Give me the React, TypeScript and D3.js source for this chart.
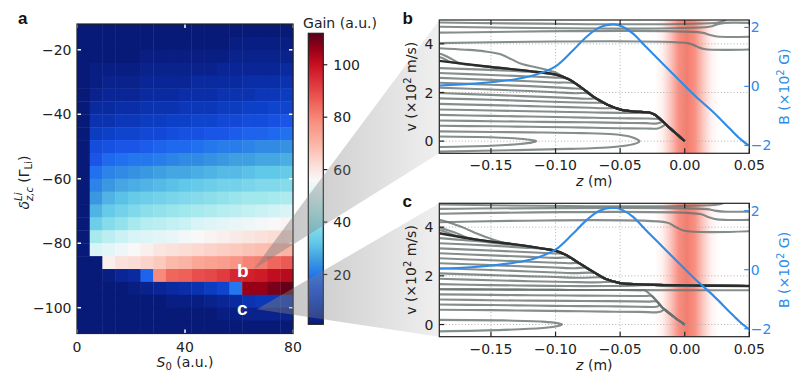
import React from 'react';
import * as d3 from 'd3';

type Pt = [number, number];
type Traj = { pts: Pt[]; to?: 'dark' | 'desc' };

// ---------- panel a: gain map ----------
const s0Centers = [2.35, 7.06, 11.76, 16.47, 21.18, 25.88, 30.59, 35.29, 40.0, 44.71, 49.41, 54.12, 58.82, 63.53, 68.24, 72.94, 77.65];
const s0Width = 80 / 17;
const deltaCenters = [-14, -18, -22, -26, -30, -34, -38, -42, -46, -50, -54, -58, -62, -66, -70, -74, -78, -82, -86, -90, -94, -98, -102, -106];
const deltaHeight = 4;

const gainRows: number[][] = [
  [0, 1, 1, 1, 1, 1, 1, 1, 1, 1, 1, 1, 1, 1, 1, 1, 1],
  [0, 1, 1, 1, 1, 1, 1, 1, 1, 1, 1, 1, 2, 2, 2, 2, 2],
  [0, 1, 1, 1, 1, 2, 2, 2, 2, 2, 2, 2, 3, 3, 3, 3, 3],
  [0, 2, 2, 2, 2, 3, 3, 3, 3, 3, 3, 4, 4, 4, 4, 4, 5],
  [0, 2, 3, 3, 3, 4, 4, 4, 4, 5, 5, 5, 5, 6, 6, 6, 7],
  [0, 3, 4, 4, 4, 5, 5, 5, 6, 6, 6, 7, 7, 7, 8, 8, 9],
  [0, 5, 5, 6, 6, 7, 7, 7, 8, 8, 8, 9, 9, 10, 10, 11, 11],
  [0, 7, 7, 8, 8, 9, 9, 10, 10, 11, 11, 12, 12, 13, 13, 14, 15],
  [0, 9, 10, 11, 11, 12, 12, 13, 14, 14, 15, 15, 16, 17, 17, 18, 19],
  [0, 13, 14, 15, 15, 16, 17, 18, 18, 19, 20, 21, 21, 22, 23, 23, 24],
  [0, 15, 18, 19, 20, 20, 21, 22, 23, 23, 24, 25, 26, 26, 27, 27, 28],
  [0, 19, 22, 23, 24, 25, 26, 27, 27, 28, 29, 30, 30, 31, 32, 32, 33],
  [0, 22, 25, 27, 28, 29, 30, 31, 32, 33, 34, 35, 35, 36, 37, 37, 38],
  [0, 25, 29, 31, 33, 34, 35, 36, 37, 38, 39, 40, 41, 42, 42, 43, 44],
  [0, 29, 33, 35, 37, 39, 40, 41, 42, 43, 44, 45, 46, 47, 48, 49, 50],
  [0, 34, 38, 40, 43, 45, 46, 47, 48, 50, 51, 52, 53, 54, 55, 56, 57],
  [0, 43, 46, 48, 50, 51, 52, 53, 55, 56, 57, 58, 59, 60, 61, 62, 63],
  [0, 50, 52, 54, 56, 58, 60, 61, 62, 63, 64, 65, 66, 67, 68, 69, 70],
  [0, 1, 58, 61, 62, 64, 66, 69, 70, 73, 74, 75, 77, 80, 81, 85, 87],
  [0, 1, 2, 4, 5, 17, 79, 85, 86, 89, 90, 92, 96, 97, 98, 101, 102],
  [0, 0, 1, 1, 2, 3, 4, 5, 6, 7, 9, 11, 20, 106, 106, 109, 111],
  [0, 0, 0, 1, 1, 1, 1, 2, 2, 2, 3, 4, 5, 7, 8, 8, 8],
  [0, 0, 0, 0, 0, 1, 1, 1, 1, 1, 1, 2, 2, 3, 3, 3, 3],
  [0, 0, 0, 0, 0, 0, 0, 0, 0, 0, 0, 1, 1, 1, 1, 1, 1],
];

const heatXTicks = [0, 40, 80];
const heatYTicks = [-20, -40, -60, -80, -100];
const gainTicks = [20, 40, 60, 80, 100];
const gainRange: Pt = [1, 112];
const gainStops: [number, string][] = [
  [1, '#081a78'], [5, '#0a2aa0'], [10, '#0c40c8'], [15, '#1a55e8'], [19, '#2070f0'],
  [25, '#3a98e0'], [32, '#60c8e8'], [42, '#a0e8ec'], [50, '#d8f4f6'], [56, '#f8f8f8'],
  [63, '#fcd8d0'], [70, '#fbb4a4'], [78, '#f89080'], [86, '#ee6058'], [92, '#e03c40'],
  [100, '#c81020'], [106, '#980018'], [112, '#5a0018'],
];

// points of the map shown in panels b and c
const markers = [
  { id: 'b', s0: 65.5, delta: -88, textS0: 59.3, textDelta: -90.6 },
  { id: 'c', s0: 66.6, delta: -100.5, textS0: 59.3, textDelta: -102.3 },
];

// ---------- panels b, c: trajectories ----------
const zTicks = [-0.15, -0.1, -0.05, 0.0, 0.05];
const vTicks = [0, 2, 4];
const bTicks = [-2, 0, 2];

const bField: Pt[] = [
  [-0.19, 0.03], [-0.16, 0.1], [-0.13, 0.25], [-0.115, 0.4], [-0.1, 0.68], [-0.087, 1.2],
  [-0.076, 1.68], [-0.066, 2.0], [-0.055, 2.1], [-0.048, 2.02], [-0.04, 1.79], [-0.03, 1.34],
  [-0.017, 0.77], [-0.004, 0.2], [0.009, -0.36], [0.022, -0.87], [0.035, -1.44], [0.043, -1.78], [0.05, -2.02],
];

const darkB: Pt[] = [
  [-0.19, 3.3], [-0.15, 3.05], [-0.12, 2.88], [-0.1, 2.74], [-0.09, 2.55], [-0.08, 2.2], [-0.07, 1.8],
  [-0.06, 1.5], [-0.05, 1.3], [-0.04, 1.22], [-0.027, 1.17], [-0.023, 1.08], [-0.012, 0.56], [0, 0],
];

const grayB: Traj[] = [
  { pts: [[-0.19, 4.88], [0.026, 4.88], [0.031, 4.97], [0.036, 5.15]] },
  { pts: [[-0.19, 4.7], [0.019, 4.7], [0.025, 4.8], [0.031, 4.86], [0.05, 4.86]] },
  { pts: [[-0.19, 4.46], [0.013, 4.46], [0.019, 4.37], [0.025, 4.3], [0.05, 4.29]] },
  { pts: [[-0.19, 4.03], [0.003, 4.02], [0.009, 3.9], [0.015, 3.79], [0.05, 3.77]] },
  { pts: [[-0.19, 3.82], [-0.17, 3.76], [-0.155, 3.69], [-0.142, 3.56], [-0.134, 3.36], [-0.126, 3.17], [-0.112, 3.0], [-0.1, 2.82], [-0.093, 2.62]], to: 'dark' },
  { pts: [[-0.19, 3.6], [-0.185, 3.5], [-0.18, 3.36], [-0.174, 3.2]], to: 'dark' },
  { pts: [[-0.19, 3.46], [-0.186, 3.38], [-0.181, 3.25]], to: 'dark' },
  { pts: [[-0.19, 3.0], [-0.15, 2.93], [-0.12, 2.85], [-0.105, 2.775]], to: 'dark' },
  { pts: [[-0.19, 2.8], [-0.15, 2.72], [-0.12, 2.66], [-0.1, 2.61], [-0.092, 2.59]], to: 'dark' },
  { pts: [[-0.19, 2.6], [-0.15, 2.52], [-0.12, 2.46], [-0.1, 2.41], [-0.085, 2.375]], to: 'dark' },
  { pts: [[-0.19, 2.4], [-0.15, 2.32], [-0.12, 2.26], [-0.1, 2.21], [-0.088, 2.17], [-0.078, 2.12]], to: 'dark' },
  { pts: [[-0.19, 2.2], [-0.15, 2.12], [-0.12, 2.06], [-0.1, 2.01], [-0.085, 1.97], [-0.074, 1.96]], to: 'dark' },
  { pts: [[-0.19, 1.98], [-0.15, 1.9], [-0.12, 1.84], [-0.09, 1.78], [-0.075, 1.74], [-0.068, 1.74]], to: 'dark' },
  { pts: [[-0.19, 1.76], [-0.15, 1.7], [-0.12, 1.65], [-0.09, 1.6], [-0.073, 1.58], [-0.062, 1.56]], to: 'dark' },
  { pts: [[-0.19, 1.53], [-0.15, 1.48], [-0.12, 1.44], [-0.09, 1.4], [-0.073, 1.37], [-0.06, 1.35], [-0.053, 1.36]], to: 'dark' },
  { pts: [[-0.19, 1.3], [-0.15, 1.26], [-0.12, 1.23], [-0.09, 1.2], [-0.07, 1.18], [-0.05, 1.16], [-0.035, 1.16], [-0.027, 1.17]], to: 'dark' },
  { pts: [[-0.19, 1.08], [-0.15, 1.04], [-0.12, 1.01], [-0.09, 0.98], [-0.07, 0.96], [-0.05, 0.94], [-0.03, 0.93], [-0.024, 0.92], [-0.019, 0.89]], to: 'dark' },
  { pts: [[-0.19, 0.85], [-0.15, 0.82], [-0.12, 0.8], [-0.09, 0.78], [-0.07, 0.77], [-0.05, 0.75], [-0.03, 0.74], [-0.022, 0.72], [-0.019, 0.76], [-0.017, 0.8]], to: 'dark' },
  { pts: [[-0.19, 0.63], [-0.15, 0.61], [-0.12, 0.59], [-0.09, 0.57], [-0.07, 0.55], [-0.05, 0.53], [-0.03, 0.52], [-0.021, 0.52], [-0.018, 0.58], [-0.0145, 0.68]], to: 'dark' },
  { pts: [[-0.19, 0.4], [-0.12, 0.36], [-0.08, 0.33], [-0.055, 0.28], [-0.042, 0.18], [-0.036, 0.05], [-0.035, 0], [-0.037, -0.08], [-0.045, -0.18], [-0.06, -0.26], [-0.09, -0.32], [-0.13, -0.37], [-0.19, -0.43]] },
  { pts: [[-0.19, 0.19], [-0.15, 0.16], [-0.128, 0.1], [-0.118, 0.04], [-0.115, 0], [-0.118, -0.05], [-0.128, -0.12], [-0.15, -0.19], [-0.19, -0.24]] },
];

const darkC: Pt[] = [
  [-0.19, 3.75], [-0.16, 3.48], [-0.13, 3.28], [-0.11, 3.12], [-0.1, 3.03], [-0.092, 2.86], [-0.082, 2.53],
  [-0.071, 2.17], [-0.061, 1.87], [-0.05, 1.7], [-0.035, 1.65], [0, 1.61], [0.05, 1.58],
];
const descC: Pt[] = [[-0.031, 1.41], [-0.026, 1.2], [-0.017, 0.68], [-0.008, 0.3], [0, 0]];

const grayC: Traj[] = [
  { pts: [[-0.19, 4.93], [0.026, 4.93], [0.031, 5.02], [0.036, 5.15]] },
  { pts: [[-0.19, 4.75], [0.017, 4.74], [0.023, 4.68], [0.03, 4.64], [0.05, 4.64]] },
  { pts: [[-0.19, 4.55], [0.012, 4.54], [0.018, 4.42], [0.025, 4.32], [0.05, 4.3]] },
  { pts: [[-0.19, 4.2], [-0.014, 4.19], [-0.008, 4.04], [-0.001, 3.86], [0.05, 3.83]] },
  { pts: [[-0.19, 4.3], [-0.18, 4.15], [-0.17, 3.95], [-0.16, 3.72], [-0.15, 3.52], [-0.14, 3.36]], to: 'dark' },
  { pts: [[-0.19, 4.0], [-0.185, 3.9], [-0.178, 3.78], [-0.168, 3.56]], to: 'dark' },
  { pts: [[-0.19, 3.88], [-0.185, 3.8], [-0.178, 3.66]], to: 'dark' },
  { pts: [[-0.19, 3.55], [-0.16, 3.42], [-0.14, 3.3], [-0.125, 3.24]], to: 'dark' },
  { pts: [[-0.19, 3.34], [-0.15, 3.24], [-0.125, 3.16], [-0.108, 3.1]], to: 'dark' },
  { pts: [[-0.19, 3.13], [-0.15, 3.04], [-0.12, 2.97], [-0.1, 2.92], [-0.094, 2.9]], to: 'dark' },
  { pts: [[-0.19, 2.93], [-0.15, 2.84], [-0.12, 2.78], [-0.1, 2.74], [-0.088, 2.73]], to: 'dark' },
  { pts: [[-0.19, 2.72], [-0.15, 2.64], [-0.12, 2.58], [-0.1, 2.54], [-0.09, 2.52], [-0.081, 2.5]], to: 'dark' },
  { pts: [[-0.19, 2.52], [-0.15, 2.44], [-0.12, 2.38], [-0.1, 2.34], [-0.085, 2.31], [-0.076, 2.33]], to: 'dark' },
  { pts: [[-0.19, 2.31], [-0.15, 2.24], [-0.12, 2.18], [-0.1, 2.14], [-0.085, 2.11], [-0.069, 2.11]], to: 'dark' },
  { pts: [[-0.19, 2.1], [-0.15, 2.03], [-0.12, 1.98], [-0.1, 1.95], [-0.08, 1.92], [-0.063, 1.93]], to: 'dark' },
  { pts: [[-0.19, 1.88], [-0.15, 1.82], [-0.12, 1.78], [-0.09, 1.75], [-0.07, 1.73], [-0.053, 1.75]], to: 'dark' },
  { pts: [[-0.19, 1.66], [-0.15, 1.62], [-0.12, 1.6], [-0.09, 1.58], [-0.06, 1.58], [-0.04, 1.6], [-0.02, 1.63]], to: 'dark' },
  { pts: [[-0.19, 1.45], [-0.15, 1.44], [-0.12, 1.43], [-0.09, 1.42], [-0.06, 1.42], [-0.033, 1.415], [0, 1.41], [0.05, 1.41]] },
  { pts: [[-0.19, 1.45], [-0.15, 1.44], [-0.12, 1.43], [-0.09, 1.42], [-0.06, 1.42], [-0.034, 1.415]], to: 'desc' },
  { pts: [[-0.19, 1.24], [-0.15, 1.22], [-0.12, 1.2], [-0.09, 1.19], [-0.06, 1.18], [-0.04, 1.17], [-0.03, 1.17], [-0.0255, 1.17]], to: 'desc' },
  { pts: [[-0.19, 1.03], [-0.15, 1.0], [-0.12, 0.98], [-0.09, 0.97], [-0.06, 0.96], [-0.04, 0.95], [-0.028, 0.94], [-0.0215, 0.94]], to: 'desc' },
  { pts: [[-0.19, 0.82], [-0.15, 0.8], [-0.12, 0.78], [-0.09, 0.76], [-0.06, 0.75], [-0.035, 0.73], [-0.024, 0.72], [-0.021, 0.74], [-0.0195, 0.81]], to: 'desc' },
  { pts: [[-0.19, 0.61], [-0.15, 0.59], [-0.12, 0.57], [-0.09, 0.55], [-0.06, 0.53], [-0.035, 0.52], [-0.022, 0.5], [-0.019, 0.52], [-0.017, 0.58], [-0.0155, 0.62]], to: 'desc' },
  { pts: [[-0.19, 0.19], [-0.14, 0.17], [-0.11, 0.12], [-0.098, 0.05], [-0.095, 0], [-0.098, -0.06], [-0.11, -0.14], [-0.14, -0.22], [-0.19, -0.28]] },
];

// red beam region around z = 0
const bandCenter = 0.0015;
const bandHalf = 0.025;
const bandProfile = [0, 0.1, 0.4, 0.78, 0.92, 0.78, 0.4, 0.1, 0];

// ---------- layout ----------
const W = 803;
const H = 378;
const FONT = 'DejaVu Sans, Verdana, sans-serif';
const BOLD = 'Liberation Sans, Arial, sans-serif';
const BLUE = '#2f8be6';
const A = { left: 77, right: 293, top: 24, bottom: 333.5 };
const CB = { left: 308.3, right: 323.3, top: 33.3, bottom: 324.3 };
const PB = { left: 439.3, right: 749.3, top: 20, bottom: 153.3 };
const PC = { left: 439.3, right: 749.3, top: 203.3, bottom: 336.7 };

const xA = d3.scaleLinear().domain([0, 80]).range([A.left, A.right]);
const yA = d3.scaleLinear().domain([-108, -12]).range([A.bottom, A.top]);
const yCB = d3.scaleLinear().domain(gainRange).range([CB.bottom, CB.top]);
const gainColor = d3.scaleLinear<string>()
  .domain(gainStops.map(d => d[0]))
  .range(gainStops.map(d => d[1]))
  .interpolate(d3.interpolateRgb)
  .clamp(true);

const fmtZ = d3.format('.2f');
const fmtI = d3.format('d');

const joinPath = (t: Traj, paths: Record<string, Pt[]>) => {
  if (!t.to) return t.pts;
  const last = t.pts[t.pts.length - 1][0];
  return t.pts.concat(paths[t.to].filter(p => p[0] > last + 1e-6));
};

function TrajPanel({ id, box, gray, dark, desc, letter }: any) {
  const x = d3.scaleLinear().domain([-0.19, 0.05]).range([box.left, box.right]);
  const y = d3.scaleLinear().domain([-0.5, 4.98]).range([box.bottom, box.top]);
  const yB = d3.scaleLinear().domain([-2.27, 2.25]).range([box.bottom, box.top]);
  const line = d3.line<Pt>().x(d => x(d[0])).y(d => y(d[1])).curve(d3.curveCatmullRom.alpha(0.5));
  const lineB = d3.line<Pt>().x(d => x(d[0])).y(d => yB(d[1])).curve(d3.curveCatmullRom.alpha(0.5));
  const paths: Record<string, Pt[]> = { dark, desc: desc || [] };
  const bx0 = x(bandCenter - bandHalf);
  const bx1 = x(bandCenter + bandHalf);
  const cy = (box.top + box.bottom) / 2;
  const cx = (box.left + box.right) / 2;
  return (
    <g>
      <defs>
        <clipPath id={`clip-${id}`}>
          <rect x={box.left} y={box.top} width={box.right - box.left} height={box.bottom - box.top} />
        </clipPath>
        <linearGradient id={`band-${id}`} gradientUnits="userSpaceOnUse" x1={bx0} x2={bx1} y1={0} y2={0}>
          {bandProfile.map((o, i) => (
            <stop key={i} offset={i / (bandProfile.length - 1)} stopColor="#f5705f" stopOpacity={o} />
          ))}
        </linearGradient>
      </defs>
      <rect x={box.left} y={box.top} width={box.right - box.left} height={box.bottom - box.top} fill="#fff" />
      <g clipPath={`url(#clip-${id})`}>
        <rect x={bx0} y={box.top} width={bx1 - bx0} height={box.bottom - box.top} fill={`url(#band-${id})`} />
        {zTicks.slice(0, 4).map(t => (
          <line key={`gx${t}`} x1={x(t)} x2={x(t)} y1={box.top} y2={box.bottom} stroke="#a8a8a8" strokeWidth={0.9} strokeDasharray="1,2.2" />
        ))}
        {vTicks.map(t => (
          <line key={`gy${t}`} x1={box.left} x2={box.right} y1={y(t)} y2={y(t)} stroke="#a8a8a8" strokeWidth={0.9} strokeDasharray="1,2.2" />
        ))}
        {gray.map((t: Traj, i: number) => (
          <path key={i} d={line(joinPath(t, paths)) || ''} fill="none" stroke="#67726f" strokeOpacity={0.8} strokeWidth={2.1} />
        ))}
        <path d={line(dark) || ''} fill="none" stroke="#2b2b2b" strokeWidth={2.4} />
        <path d={lineB(bField) || ''} fill="none" stroke={BLUE} strokeWidth={2.1} />
      </g>
      <rect x={box.left} y={box.top} width={box.right - box.left} height={box.bottom - box.top} fill="none" stroke="#222" strokeWidth={1.2} />
      {zTicks.map(t => (
        <g key={`tz${t}`}>
          <line x1={x(t)} x2={x(t)} y1={box.bottom} y2={box.bottom - 5} stroke="#222" strokeWidth={1.2} />
          <line x1={x(t)} x2={x(t)} y1={box.top} y2={box.top + 5} stroke="#222" strokeWidth={1.2} />
          <text x={x(t)} y={box.bottom + 16.8} textAnchor="middle" fontSize={14} fontFamily={FONT} fill="#222">{fmtZ(t)}</text>
        </g>
      ))}
      {vTicks.map(t => (
        <g key={`tv${t}`}>
          <line x1={box.left} x2={box.left + 5} y1={y(t)} y2={y(t)} stroke="#222" strokeWidth={1.2} />
          <text x={box.left - 6} y={y(t)} dy="0.36em" textAnchor="end" fontSize={14} fontFamily={FONT} fill="#222">{fmtI(t)}</text>
        </g>
      ))}
      {bTicks.map(t => (
        <g key={`tb${t}`}>
          <line x1={box.right} x2={box.right - 5} y1={yB(t)} y2={yB(t)} stroke={BLUE} strokeWidth={1.2} />
          <text x={box.right + 1.5} y={yB(t)} dy="0.36em" fontSize={14} fontFamily={FONT} fill={BLUE}>{fmtI(t)}</text>
        </g>
      ))}
      <text x={cx} y={box.bottom + 33} textAnchor="middle" fontSize={14} fontFamily={FONT} fill="#222">
        <tspan fontStyle="italic">z</tspan> (m)
      </text>
      <text transform={`translate(416,${cy}) rotate(-90)`} textAnchor="middle" fontSize={14} fontFamily={FONT} fill="#222">
        v (×10<tspan dy={-5} fontSize={10}>2</tspan><tspan dy={5}> m/s)</tspan>
      </text>
      <text transform={`translate(789,${cy}) rotate(-90)`} textAnchor="middle" fontSize={14} fontFamily={FONT} fill={BLUE}>
        B (×10<tspan dy={-5} fontSize={10}>2</tspan><tspan dy={5}> G)</tspan>
      </text>
      <text x={402.5} y={box.top + 3.5} fontSize={17} fontWeight="bold" fontFamily={BOLD} fill="#111">{letter}</text>
    </g>
  );
}

function GainMap() {
  const cw = xA(s0Width) - xA(0);
  const panels: Record<string, any> = { b: PB, c: PC };
  return (
    <g>
      <defs>
        <linearGradient id="cbar" x1={0} y1={1} x2={0} y2={0}>
          {gainStops.map(([v, c]) => (
            <stop key={v} offset={(v - gainRange[0]) / (gainRange[1] - gainRange[0])} stopColor={c} />
          ))}
        </linearGradient>
        {markers.map(m => (
          <linearGradient key={m.id} id={`wedge-${m.id}`} gradientUnits="userSpaceOnUse" x1={xA(m.s0)} x2={panels[m.id].left} y1={0} y2={0}>
            <stop offset={0} stopColor="#7d7d7d" stopOpacity={0.5} />
            <stop offset={1} stopColor="#7d7d7d" stopOpacity={0.12} />
          </linearGradient>
        ))}
      </defs>
      {gainRows.map((row, i) =>
        row.map((g, j) => (
          <rect
            key={`${i}-${j}`}
            x={xA(s0Centers[j] - s0Width / 2)}
            y={yA(deltaCenters[i] + deltaHeight / 2)}
            width={cw + 0.4}
            height={yA(deltaCenters[i] - deltaHeight / 2) - yA(deltaCenters[i] + deltaHeight / 2) + 0.4}
            fill={gainColor(g)}
          />
        ))
      )}
      {heatXTicks.map(t => (
        <g key={`hx${t}`}>
          <line x1={xA(t)} x2={xA(t)} y1={A.bottom} y2={A.bottom - 4} stroke="#fff" strokeWidth={1.5} />
          <line x1={xA(t)} x2={xA(t)} y1={A.top} y2={A.top + 4} stroke="#fff" strokeWidth={1.5} />
          <text x={xA(t)} y={352} textAnchor="middle" fontSize={14} fontFamily={FONT} fill="#222">{fmtI(t)}</text>
        </g>
      ))}
      {heatYTicks.map(t => (
        <g key={`hy${t}`}>
          <line x1={A.left} x2={A.left + 4} y1={yA(t)} y2={yA(t)} stroke="#fff" strokeWidth={1.5} />
          <line x1={A.right} x2={A.right - 4} y1={yA(t)} y2={yA(t)} stroke="#fff" strokeWidth={1.5} />
          <text x={A.left - 5.5} y={yA(t)} dy="0.36em" textAnchor="end" fontSize={14} fontFamily={FONT} fill="#222">{fmtI(t)}</text>
        </g>
      ))}
      <rect x={A.left} y={A.top} width={A.right - A.left} height={A.bottom - A.top} fill="none" stroke="#222" strokeWidth={1.2} />
      <text x={(A.left + A.right) / 2} y={367} textAnchor="middle" fontSize={14} fontFamily={FONT} fill="#222">
        <tspan fontStyle="italic">S</tspan><tspan fontSize={10} dy={3}>0</tspan><tspan dy={-3}> (a.u.)</tspan>
      </text>
      <text transform={`translate(28.5,182.5) rotate(-90)`} textAnchor="middle" fontSize={14} fontFamily={FONT} fill="#222">
        <tspan fontStyle="italic">δ</tspan>
        <tspan fontStyle="italic" fontSize={10} dy={-6.5}>Li</tspan>
        <tspan fontStyle="italic" fontSize={10} dx={-8.5} dy={10.5}>z,c</tspan>
        <tspan dy={-4}> (Γ</tspan>
        <tspan fontSize={10} dy={3}>Li</tspan>
        <tspan dy={-3}>)</tspan>
      </text>

      {/* colour bar */}
      <rect x={CB.left} y={CB.top} width={CB.right - CB.left} height={CB.bottom - CB.top} fill="url(#cbar)" stroke="#222" strokeWidth={1.2} />
      {gainTicks.map(t => (
        <g key={`cb${t}`}>
          <line x1={CB.right} x2={CB.right + 4} y1={yCB(t)} y2={yCB(t)} stroke="#222" strokeWidth={1.2} />
          <text x={CB.right + 10} y={yCB(t)} dy="0.36em" fontSize={14} fontFamily={FONT} fill="#222">{fmtI(t)}</text>
        </g>
      ))}
      <text x={340} y={28} textAnchor="middle" fontSize={14} fontFamily={FONT} fill="#222">Gain (a.u.)</text>

      {/* zoom wedges to panels b and c */}
      {markers.map(m => {
        const p = panels[m.id];
        const d = `M${xA(m.s0)},${yA(m.delta)}L${p.left},${p.top}L${p.left},${p.bottom}Z`;
        return <path key={m.id} d={d} fill={`url(#wedge-${m.id})`} />;
      })}
      {markers.map(m => (
        <text key={`t${m.id}`} x={xA(m.textS0)} y={yA(m.textDelta)} fontSize={19} fontWeight="bold" fontFamily={BOLD} fill="#fff">{m.id}</text>
      ))}
      <text x={18} y={24} fontSize={17} fontWeight="bold" fontFamily={BOLD} fill="#111">a</text>
    </g>
  );
}

export default function App() {
  return (
    <svg width={W} height={H} viewBox={`0 0 ${W} ${H}`} style={{ position: 'absolute', left: 0, top: 0, background: '#fff' }}>
      <rect width={W} height={H} fill="#fff" />
      <GainMap />
      <TrajPanel id="b" box={PB} gray={grayB} dark={darkB} letter="b" />
      <TrajPanel id="c" box={PC} gray={grayC} dark={darkC} desc={descC} letter="c" />
    </svg>
  );
}
